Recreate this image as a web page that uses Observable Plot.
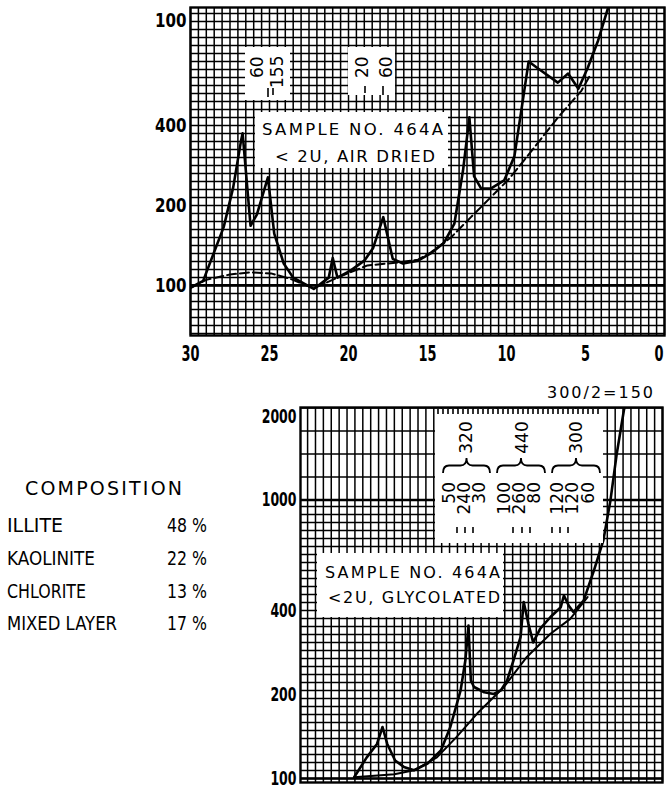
<!DOCTYPE html>
<html>
<head>
<meta charset="utf-8">
<script src="https://cdn.jsdelivr.net/npm/d3@7"></script>
<script src="https://cdn.jsdelivr.net/npm/@observablehq/plot@0.6"></script>
<style>
  html, body { margin: 0; padding: 0; background: #fff; }
  #wrap { position: relative; width: 668px; height: 791px; overflow: hidden; background: #fff; color: #000; }
  #wrap > div, #wrap > svg { position: absolute; left: 0; }
</style>
</head>
<body>
<div id="wrap">
  <div id="topPlot" style="top:0"></div>
  <div id="bottomPlot" style="top:380px"></div>
</div>
<script>
// ---------------- DATA ----------------
// Sample 464A, <2u, air dried : diffractometer trace (degrees 2-theta vs counts)
const airDriedAngle  = [30.0, 29.2, 27.9, 27.3, 26.8, 26.7, 26.2, 25.8, 25.1, 24.7, 24.1, 23.5, 22.2, 21.25, 21.0, 20.7, 19.85, 19.0, 18.45, 17.8, 17.2, 16.55, 15.6, 14.8, 13.95, 13.3, 12.75, 12.35, 12.05, 11.6, 11.0, 10.15, 9.5, 8.9, 8.6, 8.0, 6.75, 6.1, 5.45, 4.85, 4.2, 3.45];
const airDriedCounts = [98, 104, 166, 234, 352, 375, 168, 185, 256, 157, 121, 107, 97, 107, 127, 107, 114, 124, 138, 181, 126, 121, 124, 132, 145, 171, 272, 431, 258, 232, 232, 249, 307, 531, 700, 659, 583, 631, 553, 665, 841, 1180];
// air dried background (dashed)
const airBaseAngle  = [30.0, 29.0, 27.5, 26.2, 24.9, 23.7, 22.2, 20.7, 18.8, 16.9, 15.6, 14.8, 13.5, 12.25, 11.0, 9.9, 8.9, 6.75, 5.25, 4.65];
const airBaseCounts = [98, 105, 110, 112, 111, 106, 97.5, 107, 119, 122, 125, 133, 152, 181, 215, 250, 296, 430, 544, 631];

// Sample 464A, <2u, glycolated
const glyAngle  = [19.55, 18.75, 18.1, 17.75, 17.45, 16.95, 16.4, 15.75, 14.9, 14.05, 13.45, 12.8, 12.5, 12.3, 12.15, 11.95, 11.3, 10.7, 10.25, 9.85, 9.45, 9.0, 8.8, 8.5, 8.2, 7.75, 7.1, 6.45, 6.25, 5.95, 5.65, 5.0, 4.35, 3.75, 3.3, 2.9, 2.45, 2.3];
const glyCounts = [101, 119, 133, 153, 133, 116, 110, 107, 113, 126, 153, 207, 265, 354, 225, 213, 204, 201, 207, 225, 265, 322, 430, 359, 308, 345, 380, 412, 454, 418, 396, 435, 558, 716, 996, 1466, 2094, 2300];
// glycolated background
const glyBaseAngle  = [19.55, 17.0, 15.75, 14.3, 13.05, 11.75, 10.05, 8.6, 7.1, 5.85, 4.75];
const glyBaseCounts = [101, 103.5, 107, 119, 141, 171, 213, 273, 331, 374, 448];

// axes
const xTicksTop = [30, 25, 20, 15, 10, 5, 0];
const yTicksTop = [100, 200, 400, 1000];
const yTickLabelsTop = ["100", "200", "400", "100"];
const yTicksBottom = [100, 200, 400, 1000, 2000];
const yTickLabelsBottom = ["100", "200", "400", "1000", "2000"];

// annotations
const sampleTop = ["SAMPLE  NO. 464A", "< 2U, AIR DRIED"];
const sampleBottom = ["SAMPLE NO. 464A", "<2U, GLYCOLATED"];
const scaleTopA = ["60", "155"];
const scaleTopB = ["20", "60"];
const groupTotals = ["320", "440", "300"];
const groupParts = [["50", "240", "30"], ["100", "260", "80"], ["120", "120", "60"]];
const scaleNote = "300/2=150";
const compositionTitle = "COMPOSITION";
const minerals = ["ILLITE", "KAOLINITE", "CHLORITE", "MIXED LAYER"];
const percents = [48, 22, 13, 17];

// ---------------- HELPERS ----------------
const airDried = airDriedAngle.map((a, i) => ({angle: a, counts: airDriedCounts[i]}));
const airBase = airBaseAngle.map((a, i) => ({angle: a, counts: airBaseCounts[i]}));
const gly = glyAngle.map((a, i) => ({angle: a, counts: glyCounts[i]}));
const glyBase = glyBaseAngle.map((a, i) => ({angle: a, counts: glyBaseCounts[i]}));

// chart-paper rulings: even spacing on the paper => even spacing in log units
function logGrid(lo, hi, base, step) {
  const out = [];
  const a = Math.log10(lo), b = Math.log10(hi);
  for (let k = Math.ceil((a - base) / step); base + k * step <= b; k++) out.push(Math.pow(10, base + k * step));
  return out;
}
// squeeze axis tick labels into the narrow hand-lettered look of the original
function narrowTicks(svg, which, perChar) {
  d3.select(svg).selectAll(`g[aria-label="${which}-axis tick label"] text`).each(function () {
    const n = this.textContent.length;
    this.setAttribute("textLength", n * perChar);
    this.setAttribute("lengthAdjust", "spacingAndGlyphs");
  });
}
const SANS = "DejaVu Sans, Liberation Sans, sans-serif";
const GRID_W = 1.5;

// ---------------- TOP PANEL ----------------
const topDomain = [64.7, 1120];
const topGridX = d3.range(0, 30.001, 0.5);
const topGridY = logGrid(topDomain[0], topDomain[1], 2, 8 / 265);

const topChart = Plot.plot({
  width: 668, height: 375,
  marginLeft: 190, marginRight: 4, marginTop: 7, marginBottom: 40,
  style: {background: "transparent", color: "#000", overflow: "visible", fontFamily: SANS},
  x: {domain: [30, 0], label: null},
  y: {type: "log", domain: topDomain, label: null},
  marks: [
    Plot.ruleX(topGridX, {stroke: "#000", strokeWidth: GRID_W}),
    Plot.ruleY(topGridY, {stroke: "#000", strokeWidth: GRID_W}),
    Plot.ruleY([100], {stroke: "#000", strokeWidth: 2.8}),
    Plot.frame({stroke: "#000", strokeWidth: 2.4}),
    Plot.line(airBase, {x: "angle", y: "counts", stroke: "#000", strokeWidth: 2, strokeDasharray: "9,4", clip: true}),
    Plot.line(airDried, {x: "angle", y: "counts", stroke: "#000", strokeWidth: 2.6, clip: true}),
    Plot.axisX({ticks: xTicksTop, tickSize: 0, tickPadding: 11, label: null,
      tickFormat: d => String(d), fontSize: 21, fontFamily: SANS, fontWeight: "bold"}),
    Plot.axisY({ticks: yTicksTop, tickSize: 0, tickPadding: 4, label: null,
      tickFormat: d => yTickLabelsTop[yTicksTop.indexOf(d)],
      fontSize: 19, fontFamily: SANS, fontWeight: "bold"})
  ]
});
document.getElementById("topPlot").append(topChart);
narrowTicks(topChart, "x", 9);
narrowTicks(topChart, "y", 10.5);
// keep the "0" label (at the right edge) inside the page
d3.select(topChart).selectAll('g[aria-label="x-axis tick label"] text')
  .filter(function () { return this.textContent === "0"; })
  .attr("text-anchor", "end").attr("dx", -1);

// ---------------- BOTTOM PANEL ----------------
const botDomain = [96.7, 2148];
const botGridX = d3.range(0, 22.95, 0.5);
const botGridYLow = logGrid(botDomain[0], 1000, 2, 8 / 278.5);
const botGridYHigh = logGrid(1000, botDomain[1], 3, 23 / 278.5);

const bottomChart = Plot.plot({
  width: 668, height: 411,
  marginLeft: 300, marginRight: 6, marginTop: 27, marginBottom: 9,
  style: {background: "transparent", color: "#000", overflow: "visible", fontFamily: SANS},
  x: {domain: [22.95, 0], axis: null},
  y: {type: "log", domain: botDomain, label: null},
  marks: [
    Plot.ruleX(botGridX, {stroke: "#000", strokeWidth: GRID_W}),
    Plot.ruleY(botGridYLow, {stroke: "#000", strokeWidth: GRID_W}),
    Plot.ruleY(botGridYHigh, {stroke: "#000", strokeWidth: GRID_W}),
    Plot.ruleY([100, 1000], {stroke: "#000", strokeWidth: 2.6}),
    Plot.frame({stroke: "#000", strokeWidth: 2.4}),
    Plot.line(glyBase, {x: "angle", y: "counts", stroke: "#000", strokeWidth: 2, clip: true}),
    Plot.line(gly, {x: "angle", y: "counts", stroke: "#000", strokeWidth: 2.6, clip: true}),
    Plot.axisY({ticks: yTicksBottom, tickSize: 0, tickPadding: 4, label: null,
      tickFormat: d => yTickLabelsBottom[yTicksBottom.indexOf(d)],
      fontSize: 20, fontFamily: SANS, fontWeight: "bold"})
  ]
});
document.getElementById("bottomPlot").append(bottomChart);
narrowTicks(bottomChart, "y", 8.7);

// ---------------- ANNOTATION LAYER ----------------
const ov = d3.select("#wrap").append("svg")
  .attr("width", 668).attr("height", 791)
  .style("top", "0px").style("pointer-events", "none");

function box(x, y, w, h) {
  ov.append("rect").attr("x", x).attr("y", y).attr("width", w).attr("height", h).attr("fill", "#fff");
}
function txt(s, x, y, size, opts = {}) {
  const t = ov.append("text").attr("x", x).attr("y", y)
    .attr("font-family", SANS)
    .attr("font-size", size).attr("fill", "#000").text(s);
  if (opts.len) t.attr("textLength", opts.len).attr("lengthAdjust", opts.adjust || "spacing");
  return t;
}
function vtxt(s, x, y, size, anchor = "start") {
  return ov.append("text").attr("transform", `translate(${x},${y}) rotate(-90)`)
    .attr("font-family", SANS).attr("font-size", size)
    .attr("text-anchor", anchor).attr("fill", "#000").text(s);
}
function bar(x, y1, y2) {
  ov.append("line").attr("x1", x).attr("x2", x).attr("y1", y1).attr("y2", y2)
    .attr("stroke", "#000").attr("stroke-width", 1.6);
}
function brace(x1, x2, yTip, yEnd) {
  const xm = (x1 + x2) / 2, ym = (yTip + yEnd) / 2, q = 6;
  const d = `M${x1},${yEnd} Q${x1},${ym} ${x1 + q},${ym} L${xm - q},${ym} Q${xm},${ym} ${xm},${yTip}` +
            ` Q${xm},${ym} ${xm + q},${ym} L${x2 - q},${ym} Q${x2},${ym} ${x2},${yEnd}`;
  ov.append("path").attr("d", d).attr("fill", "none").attr("stroke", "#000").attr("stroke-width", 1.8);
}

// top panel boxes
box(245, 47, 45, 53);
vtxt(scaleTopA[0], 263, 78, 17);
vtxt(scaleTopA[1], 283, 88, 17);
bar(268, 88, 97); bar(273, 88, 95);

box(348, 47, 47, 48);
vtxt(scaleTopB[0], 368, 78, 17);
vtxt(scaleTopB[1], 392, 78, 17);
bar(365, 86, 93); bar(383, 86, 95);

box(255, 112, 193, 56);
txt(sampleTop[0], 262, 135, 16.5, {len: 181});
txt(sampleTop[1], 275, 162, 16.5, {len: 160});

// bottom panel boxes
txt(scaleNote, 547, 398, 16, {len: 106});

box(435, 409, 168, 134);
for (const x of d3.range(438, 601, 5)) bar(x, 409, 414);
const groupBaseX = [[455, 470, 485], [510, 525, 540], [563, 578, 594]];
const totalX = [472, 528, 582];
const braceX = [[443, 490], [497, 545], [552, 600]];
const barX = [[457, 465, 473], [513, 522, 530], [552, 560, 568]];
groupTotals.forEach((t, g) => {
  vtxt(t, totalX[g], 437.5, 17, "middle");
  brace(braceX[g][0], braceX[g][1], 458, 473);
  groupParts[g].forEach((p, j) => {
    vtxt(p, groupBaseX[g][j], 482, 17, "end");
    bar(barX[g][j], 527, 533);
  });
});

box(317, 553, 186, 64);
txt(sampleBottom[0], 325, 578, 16, {len: 175});
txt(sampleBottom[1], 328, 603, 16, {len: 172});

// composition table
txt(compositionTitle, 25, 495, 19, {len: 157});
const rowY = [532, 565, 598, 630];
const rowWidth = [56, 88, 79, 110];
minerals.forEach((m, i) => {
  txt(m, 7, rowY[i], 20, {len: rowWidth[i], adjust: "spacingAndGlyphs"});
  txt(percents[i] + " %", 167, rowY[i], 20, {len: 40, adjust: "spacingAndGlyphs"});
});
</script>
</body>
</html>
